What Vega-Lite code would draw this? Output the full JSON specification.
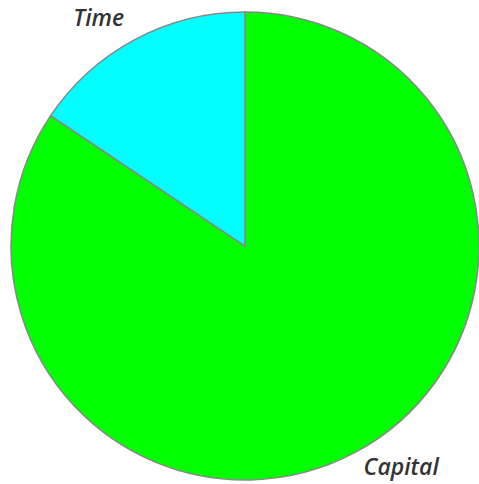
{
  "$schema": "https://vega.github.io/schema/vega-lite/v6.json",
  "autosize": "none",
  "padding": {"left": 11, "top": 12, "right": 0, "bottom": 4},
  "width": 468,
  "height": 468,
  "background": "white",
  "data": {"values": [
    {"label": "Capital", "value": 84.4},
    {"label": "Time", "value": 15.6}
  ]},
  "encoding": {
    "theta": {"field": "value", "type": "quantitative", "stack": true},
    "order": {"field": "label", "sort": "ascending"}
  },
  "layer": [
    {
      "mark": {"type": "arc", "radius": 234, "stroke": "#888888", "strokeWidth": 1.5},
      "encoding": {
        "color": {"field": "label", "type": "nominal", "scale": {"domain": ["Capital", "Time"], "range": ["#00ff00", "#00ffff"]}, "legend": null}
      }
    },
    {
      "mark": {"type": "text", "radius": 257, "align": "right", "baseline": "middle", "font": "Open Sans", "fontStyle": "italic", "fontWeight": 600, "fontSize": 23, "color": "#333333"},
      "encoding": {
        "text": {"condition": {"test": "datum.label === 'Time'", "field": "label"}, "value": ""}
      }
    },
    {
      "mark": {"type": "text", "radius": 252, "align": "left", "baseline": "middle", "font": "Open Sans", "fontStyle": "italic", "fontWeight": 600, "fontSize": 23, "color": "#333333"},
      "encoding": {
        "text": {"condition": {"test": "datum.label === 'Capital'", "field": "label"}, "value": ""}
      }
    }
  ]
}
